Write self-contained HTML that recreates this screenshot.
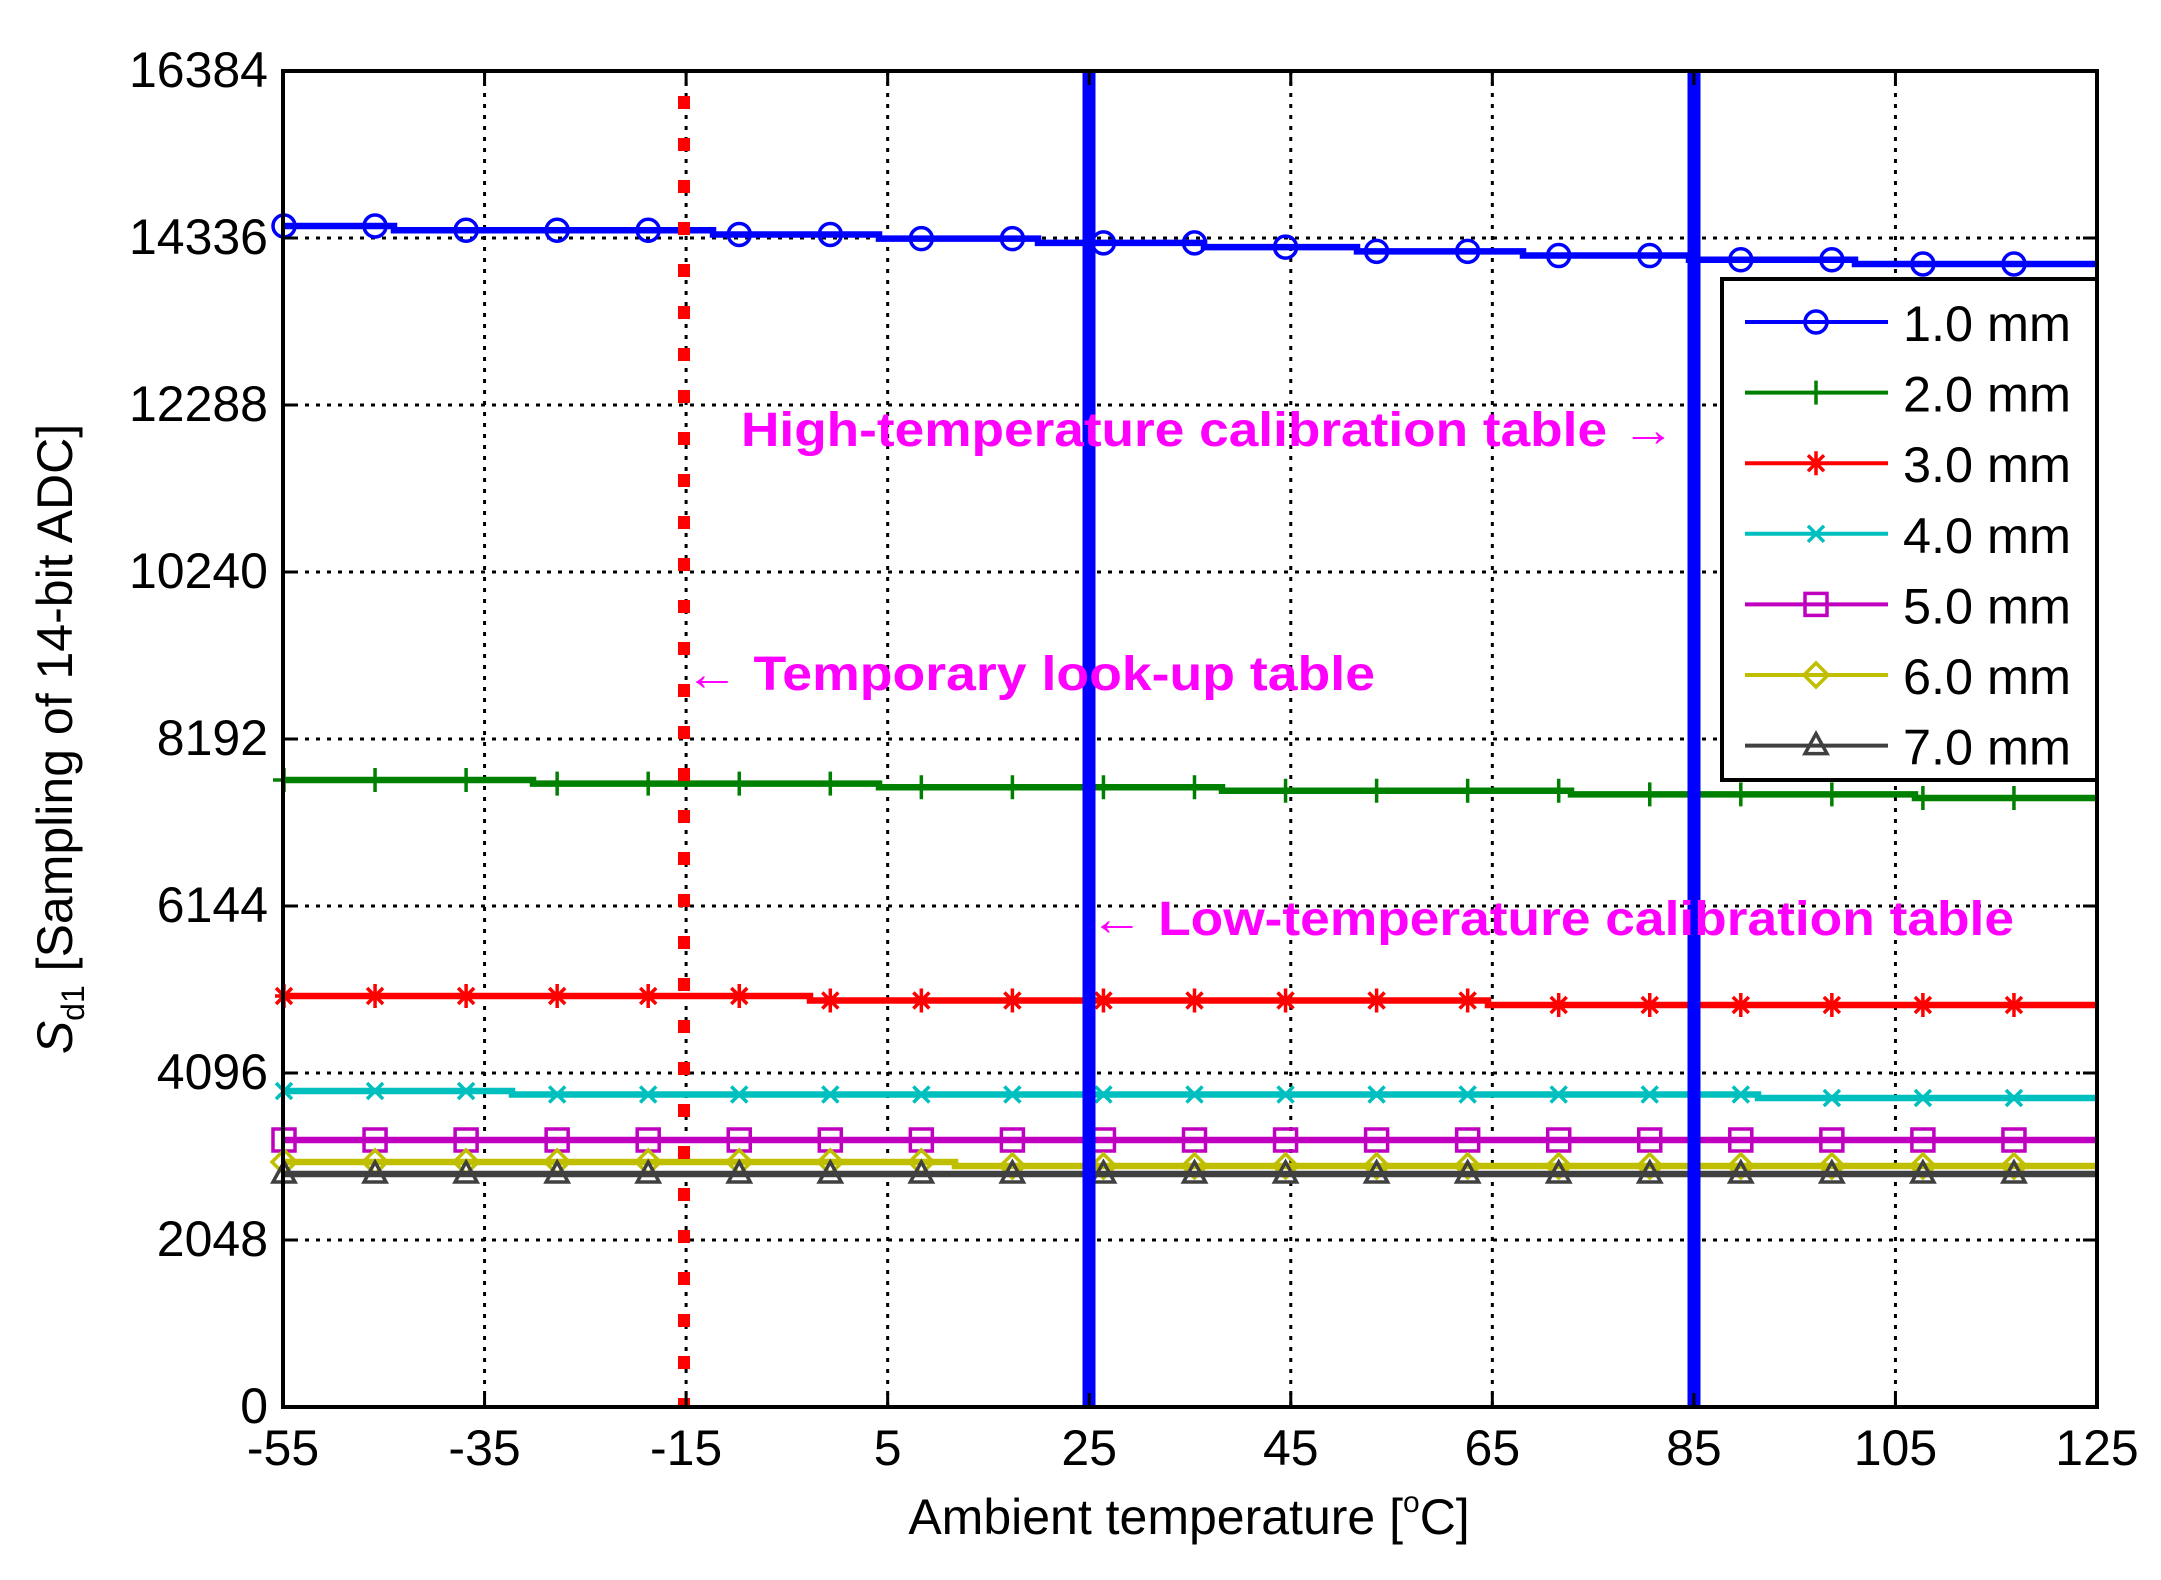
<!DOCTYPE html>
<html><head><meta charset="utf-8"><style>
html,body{margin:0;padding:0;background:#fff;}
svg{display:block;font-family:"Liberation Sans",Arial,sans-serif;}
</style></head><body>
<svg id="s" width="2161" height="1580" viewBox="0 0 2161 1580" xmlns="http://www.w3.org/2000/svg">
<rect width="2161" height="1580" fill="#fff"/>
<g id="grid" stroke="#000" stroke-width="3" stroke-dasharray="4,7"></g>
<g id="series"></g>
<line x1="684" y1="96" x2="684" y2="1407" stroke="#f00" stroke-width="12" stroke-dasharray="13,29"/>
<line x1="1089" y1="71" x2="1089" y2="1407" stroke="#00f" stroke-width="13"/>
<line x1="1694" y1="71" x2="1694" y2="1407" stroke="#00f" stroke-width="13"/>
<g fill="#f0f" font-weight="bold" font-size="48">
<text x="741" y="446" textLength="934" lengthAdjust="spacingAndGlyphs">High-temperature  calibration  table →</text>
<text x="685" y="690" textLength="690" lengthAdjust="spacingAndGlyphs">← Temporary look-up table</text>
<text x="1090" y="935" textLength="924" lengthAdjust="spacingAndGlyphs">← Low-temperature  calibration  table</text>
</g>
<rect x="283" y="71" width="1814" height="1336" fill="none" stroke="#000" stroke-width="4"/>
<g id="ticks" font-size="50" fill="#000"></g>
<text x="1189" y="1534" font-size="50" text-anchor="middle">Ambient temperature [<tspan font-size="30" dy="-22">o</tspan><tspan dy="22">C]</tspan></text>
<text transform="translate(72,739) rotate(-90)" font-size="50" text-anchor="middle"><tspan font-style="italic">S</tspan><tspan font-size="32" dy="12">d1</tspan><tspan dy="-12"> [Sampling of 14-bit ADC]</tspan></text>
<rect x="1722" y="279" width="375" height="501" fill="#fff" stroke="#000" stroke-width="4"/>
<g id="legend" font-size="50"></g>
</svg>
<script>
var NS="http://www.w3.org/2000/svg";
function el(p,t,a,txt){var e=document.createElementNS(NS,t);for(var k in a)e.setAttribute(k,a[k]);if(txt!==undefined)e.textContent=txt;p.appendChild(e);return e;}
var L=283,R=2097,T=71,B=1407;
function X(t){return L+(t+55)*(R-L)/180;}
function Y(v){return B-v/16384*(B-T);}
var g=document.getElementById('grid'),tk=document.getElementById('ticks');
for(var t=-55;t<=125;t+=20){var x=X(t);
 if(t>-55&&t<125)el(g,'line',{x1:x,y1:T,x2:x,y2:B});
 el(tk,'line',{x1:x,y1:B,x2:x,y2:B-14,stroke:'#000','stroke-width':3});
 el(tk,'line',{x1:x,y1:T,x2:x,y2:T+14,stroke:'#000','stroke-width':3});
 el(tk,'text',{x:x,y:1465,'text-anchor':'middle'},String(t));}
for(var v=0;v<=16384;v+=2048){var y=Y(v);
 if(v>0&&v<16384)el(g,'line',{x1:L,y1:y,x2:R,y2:y});
 el(tk,'line',{x1:L,y1:y,x2:L+14,y2:y,stroke:'#000','stroke-width':3});
 el(tk,'line',{x1:R,y1:y,x2:R-14,y2:y,stroke:'#000','stroke-width':3});
 el(tk,'text',{x:268,y:y+16,'text-anchor':'end'},String(v));}
var S=[
 {c:'#0000ff',m:'o',y0:226,y1:264,br:[394,713,879,1038,1204,1357,1523,1689,1855]},
 {c:'#008000',m:'+',y0:780,y1:798,br:[533,879,1222,1571,1915]},
 {c:'#ff0000',m:'*',y0:996,y1:1005,br:[810,1488]},
 {c:'#00bfbf',m:'x',y0:1091,y1:1098,br:[512,1758]},
 {c:'#bf00bf',m:'s',y0:1140,y1:1140,br:[]},
 {c:'#bfbf00',m:'d',y0:1162,y1:1166,br:[955]},
 {c:'#404040',m:'^',y0:1174,y1:1174,br:[]}];
var sg=document.getElementById('series');
function marker(p,m,x,y,c){var a={fill:'none',stroke:c,'stroke-width':3.5};
 if(m=='o'){a.cx=x;a.cy=y;a.r=11;el(p,'circle',a);}
 else if(m=='+'){a.d='M'+(x-11)+' '+y+'H'+(x+11)+'M'+x+' '+(y-12)+'V'+(y+12);el(p,'path',a);}
 else if(m=='x'){a.d='M'+(x-8)+' '+(y-8)+'L'+(x+8)+' '+(y+8)+'M'+(x-8)+' '+(y+8)+'L'+(x+8)+' '+(y-8);el(p,'path',a);}
 else if(m=='*'){a.d='M'+(x-9)+' '+y+'H'+(x+9)+'M'+x+' '+(y-12)+'V'+(y+12)+'M'+(x-8)+' '+(y-8)+'L'+(x+8)+' '+(y+8)+'M'+(x-8)+' '+(y+8)+'L'+(x+8)+' '+(y-8);el(p,'path',a);}
 else if(m=='s'){a.x=x-11;a.y=y-11;a.width=22;a.height=22;el(p,'rect',a);}
 else if(m=='d'){a.d='M'+x+' '+(y-12)+'L'+(x+12)+' '+y+'L'+x+' '+(y+12)+'L'+(x-12)+' '+y+'Z';el(p,'path',a);}
 else if(m=='^'){a.d='M'+x+' '+(y-12)+'L'+(x+11)+' '+(y+8)+'L'+(x-11)+' '+(y+8)+'Z';el(p,'path',a);}}
S.forEach(function(s){
 var n=s.br.length,st=n?(s.y1-s.y0)/n:0;
 function lv(x){var k=0;for(var i=0;i<n;i++)if(x>=s.br[i])k=i+1;return s.y0+k*st;}
 var d='M'+L+' '+s.y0;for(var i=0;i<n;i++){d+='H'+s.br[i]+'V'+(s.y0+(i+1)*st);}d+='H'+R;
 el(sg,'path',{d:d,fill:'none',stroke:s.c,'stroke-width':6.5});
 for(var j=0;j<20;j++){var x=284+j*91.05;marker(sg,s.m,x,lv(x),s.c);}
});
var lg=document.getElementById('legend');
var names=['1.0 mm','2.0 mm','3.0 mm','4.0 mm','5.0 mm','6.0 mm','7.0 mm'];
S.forEach(function(s,i){var y=322+i*70.6;
 el(lg,'line',{x1:1745,y1:y,x2:1888,y2:y,stroke:s.c,'stroke-width':4});
 marker(lg,s.m,1816,y,s.c);
 el(lg,'text',{x:1903,y:y+19,textLength:168,lengthAdjust:'spacingAndGlyphs'},names[i]);});
</script>
</body></html>
